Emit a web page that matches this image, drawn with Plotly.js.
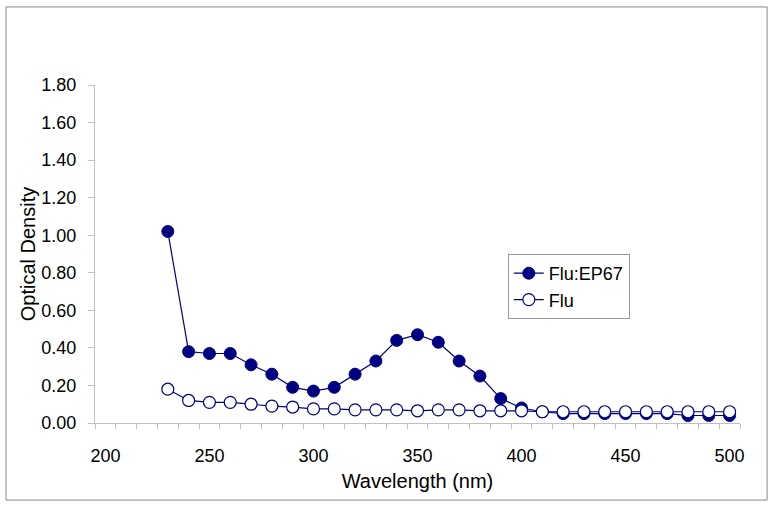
<!DOCTYPE html>
<html><head><meta charset="utf-8">
<script src="https://cdn.plot.ly/plotly-3.0.1.min.js"></script>
<style>html,body{margin:0;padding:0;background:#fff}#chart{width:774px;height:507px}</style>
</head><body><div id="chart"></div>
<script>
const wavelength = [230,240,250,260,270,280,290,300,310,320,330,340,350,360,370,380,390,400,410,420,430,440,450,460,470,480,490,500];
const fluEP67 = [1.02,0.38,0.37,0.37,0.31,0.26,0.19,0.17,0.19,0.26,0.33,0.44,0.47,0.43,0.33,0.25,0.13,0.08,0.06,0.05,0.05,0.05,0.05,0.05,0.05,0.04,0.04,0.04];
const flu = [0.18,0.12,0.11,0.11,0.10,0.09,0.085,0.075,0.075,0.07,0.07,0.07,0.065,0.07,0.07,0.065,0.065,0.065,0.06,0.06,0.06,0.06,0.06,0.06,0.06,0.06,0.06,0.06];
const xTickVals = [200,250,300,350,400,450,500];
const yTickVals = [0,0.2,0.4,0.6,0.8,1.0,1.2,1.4,1.6,1.8];
const seriesNames = ['Flu:EP67','Flu'];

const navy = '#000080';
const font = 'Liberation Sans, Arial, sans-serif';
const traces = [
  {x: wavelength, y: fluEP67, name: seriesNames[0], type: 'scatter', mode: 'lines+markers',
   line: {color: navy, width: 1.2}, marker: {color: navy, size: 12, line: {color: navy, width: 1}}},
  {x: wavelength, y: flu, name: seriesNames[1], type: 'scatter', mode: 'lines+markers',
   line: {color: navy, width: 1.2}, marker: {color: '#ffffff', size: 12, line: {color: navy, width: 1.2}}}
];
const layout = {
  width: 774, height: 507,
  margin: {l: 95, r: 34, t: 85, b: 84},
  paper_bgcolor: '#fff', plot_bgcolor: '#fff',
  font: {family: font, size: 18, color: '#000'},
  showlegend: true,
  legend: {x: 0.640, y: 0.500, xanchor: 'left', yanchor: 'top', bgcolor: '#fff',
           bordercolor: '#999', borderwidth: 1, font: {family: font, size: 18, color: '#000'},
           tracegroupgap: 0, itemwidth: 30},
  xaxis: {range: [195, 505], tickmode: 'array', tickvals: xTickVals, ticktext: xTickVals.map(String),
          ticks: '', showgrid: false, zeroline: false, showline: true, linecolor: '#c0c0c0', linewidth: 1,
          tickfont: {size: 18}, ticklabelstandoff: 16,
          minor: {tick0: 195, dtick: 10, ticks: 'outside', ticklen: 5, tickcolor: '#c0c0c0', showgrid: false},
          title: {text: 'Wavelength (nm)', font: {size: 20}, standoff: 9}},
  yaxis: {range: [0, 1.8], tickmode: 'array', tickvals: yTickVals, ticktext: yTickVals.map(v => v.toFixed(2)),
          ticks: 'outside', ticklen: 6, tickcolor: '#c0c0c0', showgrid: false, zeroline: false,
          showline: true, linecolor: '#c0c0c0', linewidth: 1, tickfont: {size: 18}, ticklabelstandoff: 8,
          title: {text: 'Optical Density', font: {size: 20}, standoff: 0}},
  shapes: [{type: 'rect', xref: 'paper', yref: 'paper', x0: -0.138, x1: 1.042, y0: -0.228, y1: 1.231,
            line: {color: '#888', width: 1}, fillcolor: 'rgba(0,0,0,0)', layer: 'below'}]
};
Plotly.newPlot('chart', traces, layout, {displayModeBar: false, staticPlot: true});
</script></body></html>
